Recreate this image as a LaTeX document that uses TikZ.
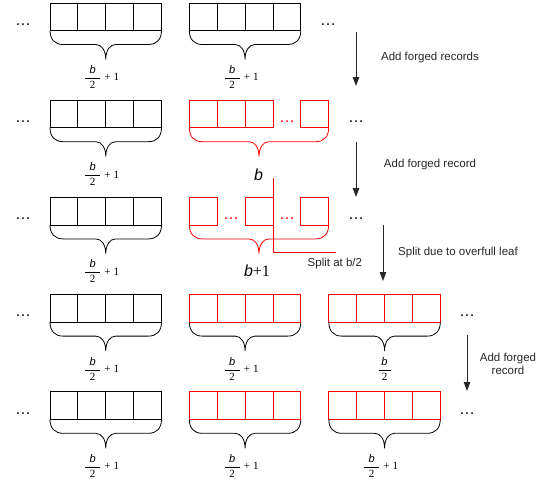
\documentclass[tikz,border=0pt]{standalone}
\usepackage{amsmath}
\usepackage{fontspec}
\setmainfont{Liberation Sans}
\newfontfamily\tnr{Liberation Serif}
\usetikzlibrary{arrows.meta}
\tikzset{
  ln/.style={line width=0.8pt},
  arr/.style={-{Triangle[length=9pt,width=6.5pt]}, line width=0.9pt, draw=black!85},
  lbl/.style={font=\fontsize{11.5}{13.5}\selectfont, align=center, inner sep=0pt, text=black!85},
  dotsn/.style={font=\fontsize{16}{16}\selectfont, inner sep=0pt, anchor=base},
  fraclbl/.style={font=\fontsize{11}{13}\selectfont, inner sep=0pt},
  biglbl/.style={font=\fontsize{16}{18}\selectfont, inner sep=0pt}
}
\newcommand\cellw{27.875}
\newcommand\cellh{27.5}
% one cell: x0, ytop, colour
\newcommand\onecell[3]{\draw[ln,#3] (#1,#2) rectangle ++(\cellw,\cellh);}
% four cells: x0, ytop, colour
\newcommand\fourcells[3]{\foreach \i in {0,1,2,3}{\draw[ln,#3] ({#1+\i*\cellw},#2) rectangle ++(\cellw,\cellh);}}
% brace: x1, x2, ybottom, colour
\newcommand\mybrace[4]{%
  \pgfmathsetmacro\xm{(#1+#2)/2}%
  \draw[ln,#4] (#1,#3) .. controls (#1,#3+9) and (#1+5,#3+14) .. (#1+13,#3+14)
    -- (\xm-10,#3+14) .. controls (\xm-4,#3+14) and (\xm,#3+20) .. (\xm,#3+29)
    .. controls (\xm,#3+20) and (\xm+4,#3+14) .. (\xm+10,#3+14)
    -- (#2-13,#3+14) .. controls (#2-5,#3+14) and (#2,#3+9) .. (#2,#3);}
\newcommand\halfplus{$\dfrac{\makebox[15pt]{\itshape b}}{\makebox[15pt]{\tnr 2}}\;\mbox{\tnr +}\;\mbox{\tnr 1}$}
\newcommand\halfonly{$\dfrac{\makebox[12pt]{\itshape b}}{\makebox[12pt]{\tnr 2}}$}
\begin{document}
\begin{tikzpicture}[x=1pt,y=-1pt]
\useasboundingbox (0,0) rectangle (548,482);
% block x positions
\def\xa{50}
\def\xb{189.3}
\def\xc{328.8}
% ---------- Row 1 ----------
\fourcells{\xa}{3}{black}
\fourcells{\xb}{3}{black}
\mybrace{50}{161.5}{30.5}{black}
\mybrace{189.3}{300.8}{30.5}{black}
\node[fraclbl] (l1a) at (101.5,77) {\halfplus};
\node[fraclbl] (l1b) at (241,77) {\halfplus};
\node[dotsn] (d1a) at (23,25) {\ldots};
\node[dotsn] (d1b) at (328,25) {\ldots};
% ---------- Row 2 ----------
\fourcells{\xa}{100.2}{black}
\onecell{189.3}{100.2}{red}
\onecell{217.175}{100.2}{red}
\onecell{245.05}{100.2}{red}
\onecell{300.8}{100.2}{red}
\mybrace{50}{161.5}{127.7}{black}
\mybrace{189.3}{328.7}{127.7}{red}
\node[fraclbl] (l2a) at (101.5,174.2) {\halfplus};
\node[biglbl] (l2b) at (258.5,175) {\itshape b};
\node[dotsn] (d2a) at (23,122) {\ldots};
\node[dotsn,red] (d2r) at (287,122) {\ldots};
\node[dotsn] (d2b) at (356,122) {\ldots};
% ---------- Row 3 ----------
\fourcells{\xa}{197.4}{black}
\onecell{189.3}{197.4}{red}
\onecell{245.05}{197.4}{red}
\onecell{300.8}{197.4}{red}
\mybrace{50}{161.5}{224.9}{black}
\mybrace{189.3}{328.7}{224.9}{red}
\node[fraclbl] (l3a) at (101.5,271.4) {\halfplus};
\node[biglbl] (l3b) at (257,271) {{\itshape b}{\tnr +1}};
\node[dotsn] (d3a) at (23,219) {\ldots};
\node[dotsn,red] (d3r1) at (231,219) {\ldots};
\node[dotsn,red] (d3r2) at (287,219) {\ldots};
\node[dotsn] (d3b) at (356,219) {\ldots};
% split line
\coordinate (s1) at (272.9,178);
\coordinate (s2) at (272.9,252);
\coordinate (s3) at (336,252);
\draw[ln,red] (s1) -- (s2) -- (s3);
\node[lbl,anchor=west] (split) at (307.5,263.5) {Split at b/2};
% ---------- Row 4 ----------
\fourcells{\xa}{294.6}{black}
\fourcells{\xb}{294.6}{red}
\fourcells{\xc}{294.6}{red}
\mybrace{50}{161.5}{322.1}{black}
\mybrace{189.3}{300.8}{322.1}{black}
\mybrace{328.8}{440.3}{322.1}{black}
\node[fraclbl] (l4a) at (101.5,368.6) {\halfplus};
\node[fraclbl] (l4b) at (241,368.6) {\halfplus};
\node[fraclbl] (l4c) at (384.5,368.6) {\halfonly};
\node[dotsn] (d4a) at (23,316.5) {\ldots};
\node[dotsn] (d4b) at (467,316.5) {\ldots};
% ---------- Row 5 ----------
\fourcells{\xa}{391.8}{black}
\fourcells{\xb}{391.8}{red}
\fourcells{\xc}{391.8}{red}
\mybrace{50}{161.5}{419.3}{black}
\mybrace{189.3}{300.8}{419.3}{black}
\mybrace{328.8}{440.3}{419.3}{black}
\node[fraclbl] (l5a) at (101.5,465.8) {\halfplus};
\node[fraclbl] (l5b) at (241,465.8) {\halfplus};
\node[fraclbl] (l5c) at (380.5,465.8) {\halfplus};
\node[dotsn] (d5a) at (23,414) {\ldots};
\node[dotsn] (d5b) at (467,414) {\ldots};
% ---------- Arrows ----------
\coordinate (a1s) at (356,32);
\coordinate (a1e) at (356,86);
\draw[arr] (a1s) -- (a1e);
\node[lbl] (t1) at (430,58) {Add forged records};
\coordinate (a2s) at (356,142);
\coordinate (a2e) at (356,197);
\draw[arr] (a2s) -- (a2e);
\node[lbl] (t2) at (430,165) {Add forged record};
\coordinate (a3s) at (383,225);
\coordinate (a3e) at (383,281);
\draw[arr] (a3s) -- (a3e);
\node[lbl] (t3) at (458,253) {Split due to overfull leaf};
\coordinate (a4s) at (467,335);
\coordinate (a4e) at (467,391);
\draw[arr] (a4s) -- (a4e);
\node[lbl] (t4) at (508,364) {Add forged\\record};
\end{tikzpicture}
\end{document}
